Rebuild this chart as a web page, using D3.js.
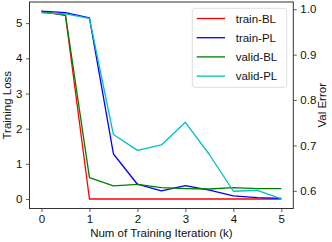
<!DOCTYPE html>
<html>
<head>
<meta charset="utf-8">
<script src="https://cdnjs.cloudflare.com/ajax/libs/d3/7.8.5/d3.min.js"></script>
<style>
       body { margin: 0; background: #fff; }
       text { font-family: "Liberation Sans", Arial, sans-serif; fill: #111; }
</style>
</head>
<body>
<svg id="chart"></svg>
<script>
/*Chart data*/
const iterations = [0, 0.5, 1, 1.5, 2, 2.5, 3, 3.5, 4, 4.5, 5];
const trainBL = [5.33, 5.22, 0.0, 0.0, 0.0, 0.0, 0.0, 0.0, 0.0, 0.0, 0.0];
const trainPL = [5.34, 5.30, 5.15, 1.28, 0.42, 0.23, 0.38, 0.25, 0.09, 0.04, 0.02];
const validBL = [0.995, 0.987, 0.629, 0.611, 0.614, 0.607, 0.605, 0.604, 0.607, 0.605, 0.605];
const validPL = [0.992, 0.990, 0.980, 0.724, 0.689, 0.701, 0.751, 0.680, 0.599, 0.601, 0.582];

const xTicks = [0, 1, 2, 3, 4, 5];
const leftTicks = [0, 1, 2, 3, 4, 5];
const rightTicks = [0.6, 0.7, 0.8, 0.9, 1.0];

const seriesNames = ["train-BL", "train-PL", "valid-BL", "valid-PL"];

/*Set up SVG canvas*/
const chartWidth = 332;
const chartHeight = 242;
const margin = {top: 2, right: 38.7, bottom: 33.5, left: 29.5};
const innerW = chartWidth - margin.left - margin.right;
const innerH = chartHeight - margin.top - margin.bottom;

const svg = d3.select("#chart")
       .attr("width", chartWidth)
       .attr("height", chartHeight);

const g = svg.append("g")
       .attr("transform", "translate(" + margin.left + "," + margin.top + ")");

/*Scales*/
const x = d3.scaleLinear().domain([-0.25, 5.25]).range([0, innerW]);
const yLeft = d3.scaleLinear().domain([-0.27, 5.6]).range([innerH, 0]);
const yRight = d3.scaleLinear().domain([0.561, 1.016]).range([innerH, 0]);

/*Series: first two on left axis, last two on right axis*/
const series = [
       {name: seriesNames[0], values: trainBL, scale: yLeft, color: "#ff0000"},
       {name: seriesNames[1], values: trainPL, scale: yLeft, color: "#0000ff"},
       {name: seriesNames[2], values: validBL, scale: yRight, color: "#008000"},
       {name: seriesNames[3], values: validPL, scale: yRight, color: "#00bfbf"}
];

series.forEach((s)=>{
       const line = d3.line()
              .x((d, i)=>x(iterations[i]))
              .y((d)=>s.scale(d));
       g.append("path")
              .datum(s.values)
              .attr("fill", "none")
              .attr("stroke", s.color)
              .attr("stroke-width", 1.3)
              .attr("stroke-linejoin", "round")
              .attr("d", line);
});

/*Axes*/
const fmt1 = d3.format(".1f");

const xAxis = g.append("g")
       .attr("transform", "translate(0," + innerH + ")")
       .call(d3.axisBottom(x).tickValues(xTicks).tickFormat(d3.format("d")).tickSize(3.5).tickPadding(3));

const leftAxis = g.append("g")
       .call(d3.axisLeft(yLeft).tickValues(leftTicks).tickFormat(d3.format("d")).tickSize(3.5).tickPadding(3.5));

const rightAxis = g.append("g")
       .attr("transform", "translate(" + innerW + ",0)")
       .call(d3.axisRight(yRight).tickValues(rightTicks).tickFormat(fmt1).tickSize(3.5).tickPadding(3.5));

[xAxis, leftAxis, rightAxis].forEach((a)=>{
       a.select(".domain").remove();
       a.selectAll("line").attr("stroke", "#333").attr("stroke-width", 0.8);
       a.selectAll("text").attr("font-size", 11.5).attr("fill", "#111")
              .style("font-family", "'Liberation Sans', Arial, sans-serif");
});

/*Frame*/
g.append("rect")
       .attr("width", innerW)
       .attr("height", innerH)
       .attr("fill", "none")
       .attr("stroke", "#333")
       .attr("stroke-width", 1);

/*Axis labels*/
svg.append("text")
       .text("Num of Training Iteration (k)")
       .attr("x", margin.left + innerW / 2)
       .attr("y", 237)
       .attr("text-anchor", "middle")
       .attr("font-size", 11.5);

svg.append("text")
       .text("Training Loss")
       .attr("transform", "translate(11," + (margin.top + innerH / 2) + ") rotate(-90)")
       .attr("text-anchor", "middle")
       .attr("font-size", 11.5);

svg.append("text")
       .text("Val Error")
       .attr("transform", "translate(325.5," + (margin.top + innerH / 2) + ") rotate(-90)")
       .attr("text-anchor", "middle")
       .attr("font-size", 11.5);

/*Legend*/
const legend = svg.append("g").attr("transform", "translate(192.3,8.3)");

legend.append("rect")
       .attr("width", 94.4)
       .attr("height", 79)
       .attr("rx", 2.5)
       .attr("fill", "#fff")
       .attr("fill-opacity", 0.8)
       .attr("stroke", "#d6d6d6")
       .attr("stroke-width", 0.8);

const rows = legend.selectAll(".row")
       .data(series)
       .enter()
       .append("g")
       .attr("class", "row")
       .attr("transform", (d, i)=>"translate(0," + (10.2 + i * 19.2) + ")");

rows.append("line")
       .attr("x1", 4.4)
       .attr("x2", 32.7)
       .attr("stroke", (d)=>d.color)
       .attr("stroke-width", 1.3);

rows.append("text")
       .text((d)=>d.name)
       .attr("x", 43.4)
       .attr("dy", "0.35em")
       .attr("font-size", 11.5);
</script>
</body>
</html>
